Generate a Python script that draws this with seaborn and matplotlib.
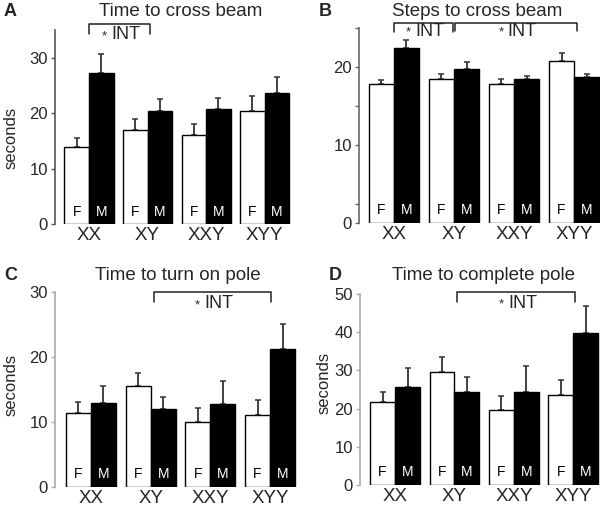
import numpy as np
import pandas as pd
import seaborn as sns
import matplotlib.pyplot as plt
from matplotlib.ticker import FixedLocator

# data (means and upper SEM)

genotypes = ["XX", "XY", "XXY", "XYY"]

beam_time_f = [13.9, 17.0, 16.0, 20.4]
beam_time_f_err = [1.6, 1.9, 2.0, 2.7]
beam_time_m = [27.2, 20.3, 20.7, 23.7]
beam_time_m_err = [3.4, 2.3, 2.1, 2.9]

beam_steps_f = [17.8, 18.4, 17.8, 20.8]
beam_steps_f_err = [0.5, 0.7, 0.6, 1.0]
beam_steps_m = [22.4, 19.7, 18.5, 18.7]
beam_steps_m_err = [1.0, 0.9, 0.4, 0.4]

pole_turn_f = [11.4, 15.5, 10.0, 11.1]
pole_turn_f_err = [1.7, 2.0, 2.1, 2.3]
pole_turn_m = [13.0, 12.0, 12.8, 21.3]
pole_turn_m_err = [2.6, 1.9, 3.5, 3.8]

pole_done_f = [21.6, 29.7, 19.7, 23.5]
pole_done_f_err = [2.7, 3.9, 3.7, 4.0]
pole_done_m = [25.7, 24.4, 24.3, 39.8]
pole_done_m_err = [4.9, 4.0, 6.9, 7.0]

sns.set_theme(style="white")
plt.rcParams["font.family"] = ["Liberation Sans", "DejaVu Sans"]

W, H = 600, 508
fig = plt.figure(figsize=(W / 100, H / 100), dpi=100)


def px_axes(left, top, width, height):
    return fig.add_axes([left / W, 1 - (top + height) / H, width / W, height / H])


def panel(ax, f, f_err, m, m_err, ylim, yticks, xlim, spine_col, minor=None):
    df = pd.DataFrame({
        "genotype": genotypes * 2,
        "sex": ["F"] * 4 + ["M"] * 4,
        "value": f + m,
    })
    sns.barplot(data=df, x="genotype", y="value", hue="sex", order=genotypes,
                hue_order=["F", "M"], palette={"F": "white", "M": "black"},
                edgecolor="black", linewidth=1.0, width=0.84, gap=0,
                errorbar=None, legend=False, ax=ax, zorder=3)
    for cont, errs, txt, tcol in zip(ax.containers, [f_err, m_err], ["F", "M"], ["black", "white"]):
        xs = [b.get_x() + b.get_width() / 2 for b in cont]
        hs = [b.get_height() for b in cont]
        ax.errorbar(xs, hs, yerr=[np.zeros(len(errs)), errs], fmt="none",
                    ecolor="#333333", elinewidth=1.3, capsize=2.5, capthick=1.1, zorder=2)
        for x in xs:
            ax.annotate(txt, (x, 0), xytext=(0, 9), textcoords="offset points",
                        ha="center", va="center", fontsize=10, color=tcol, zorder=5)
    ax.set_ylim(*ylim)
    ax.set_xlim(*xlim)
    ax.set_yticks(yticks)
    if minor is not None:
        ax.yaxis.set_minor_locator(FixedLocator(minor))
    ax.tick_params(axis="y", which="major", left=True, length=3, width=1,
                   color=spine_col, labelsize=12, pad=2)
    ax.tick_params(axis="y", which="minor", left=True, length=3, width=1, color=spine_col)
    ax.tick_params(axis="x", bottom=False, labelsize=13.5, pad=-3.5)
    ax.set_xlabel("")
    ax.set_ylabel("")
    for s in ["top", "right", "bottom"]:
        ax.spines[s].set_visible(False)
    ax.spines["left"].set_color(spine_col)
    ax.spines["left"].set_linewidth(1.2)
    ax.set_facecolor("none")


def bracket(ax, x0, x1, ytop, yleg, ytxt):
    ax.plot([x0, x0, x1, x1], [yleg, ytop, ytop, yleg], color="#222222", lw=1.1,
            clip_on=False, zorder=4)
    xc = (x0 + x1) / 2
    ax.annotate("INT", (xc, ytxt), xytext=(-6, 0), textcoords="offset points",
                ha="left", va="center", fontsize=13, annotation_clip=False)
    ax.annotate("*", (xc, ytxt), xytext=(-11, -1.2), textcoords="offset points",
                ha="center", va="center", fontsize=9.5, annotation_clip=False)


# panel A
axA = px_axes(55, 30, 239, 194)
panel(axA, beam_time_f, beam_time_f_err, beam_time_m, beam_time_m_err,
      (0, 35), [0, 10, 20, 30], (-0.58, 3.5), "#555555")
bracket(axA, 0, 1.05, 36.1, 34.3, 34.1)

# panel B
axB = px_axes(359, 28, 241, 195)
panel(axB, beam_steps_f, beam_steps_f_err, beam_steps_m, beam_steps_m_err,
      (0, 25), [0, 10, 20], (-0.58, 3.43), "#666666", minor=[2.5, 15, 25])
bracket(axB, 0, 0.98, 25.7, 24.5, 24.6)
bracket(axB, 1.02, 3.05, 25.7, 24.6, 24.6)

# panel C
axC = px_axes(55, 292, 245, 195)
panel(axC, pole_turn_f, pole_turn_f_err, pole_turn_m, pole_turn_m_err,
      (0, 30), [0, 10, 20, 30], (-0.6, 3.5), "#aaaaaa")
bracket(axC, 1.05, 3.02, 30.0, 28.5, 28.2)

# panel D
axD = px_axes(360, 294, 240, 191)
panel(axD, pole_done_f, pole_done_f_err, pole_done_m, pole_done_m_err,
      (0, 50), [0, 10, 20, 30, 40, 50], (-0.59, 3.45), "#aaaaaa")
bracket(axD, 1.05, 3.03, 50.5, 47.9, 47.6)

# titles, panel letters and y labels
titles = ["Time to cross beam", "Steps to cross beam", "Time to turn on pole", "Time to complete pole"]
title_pos = [(181, 12), (477, 12), (178, 275), (483, 275)]
letters = ["A", "B", "C", "D"]
letter_pos = [(4, 12), (319, 12), (4, 275), (329, 275)]
for t, (x, y) in zip(titles, title_pos):
    fig.text(x / W, 1 - y / H, t, ha="center", va="center", fontsize=13.5)
for t, (x, y) in zip(letters, letter_pos):
    fig.text(x / W, 1 - y / H, t, ha="left", va="center", fontsize=13, fontweight="bold")
for x, y in [(11, 138), (11, 385), (324, 383)]:
    fig.text(x / W, 1 - y / H, "seconds", ha="center", va="center", fontsize=12, rotation=90)

fig.savefig("out.png", dpi=100)
